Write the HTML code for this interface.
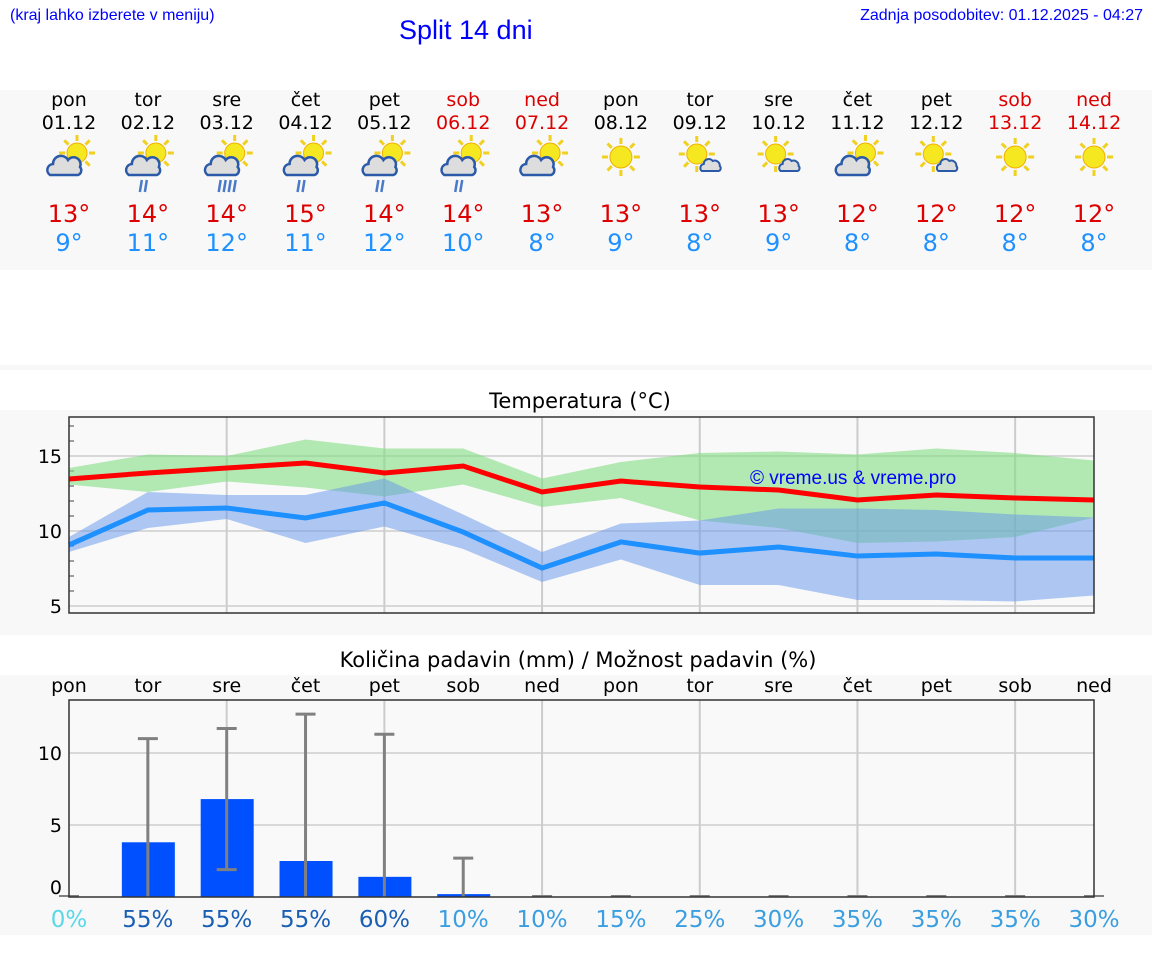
<!DOCTYPE html>
<html><head><meta charset="utf-8"><style>
body{margin:0;width:1152px;height:975px;background:#fff;font-family:"DejaVu Sans","Liberation Sans",sans-serif;position:relative;overflow:hidden}
.a{position:absolute}
.band{position:absolute;left:0;width:1152px;background:#f8f8f8}
.day{position:absolute;width:80px;text-align:center;font-size:19px}
</style></head><body>
<div class="a" style="left:10px;top:7px;font-size:16px;color:#00f;font-family:'Liberation Sans',sans-serif">(kraj lahko izberete v meniju)</div>
<div class="a" style="left:399px;top:15px;font-size:27px;color:#00f;font-family:'Liberation Sans',sans-serif">Split 14 dni</div>
<div class="a" style="right:9px;top:7px;font-size:16px;color:#00f;font-family:'Liberation Sans',sans-serif">Zadnja posodobitev: 01.12.2025 - 04:27</div>
<div class="band" style="top:90px;height:180px"></div>
<div class="band" style="top:365px;height:5px"></div>
<div class="band" style="top:410px;height:225px"></div>
<div class="band" style="top:675px;height:260px"></div>
<div id="days"></div>
<svg id="chart" class="a" style="left:0;top:0" width="1152" height="975"></svg>
<script>
const dayNames=["pon","tor","sre","čet","pet","sob","ned","pon","tor","sre","čet","pet","sob","ned"];
const dates=["01.12","02.12","03.12","04.12","05.12","06.12","07.12","08.12","09.12","10.12","11.12","12.12","13.12","14.12"];
const hiT=[13,14,14,15,14,14,13,13,13,13,12,12,12,12];
const loT=[9,11,12,11,12,10,8,9,8,9,8,8,8,8];
const icons=["pc","pcr","pcrr","pcr","pcr","pcr","pc","s","sc","sc","pc","sc","s","s"];
const maxLine=[13.47,13.87,14.2,14.53,13.87,14.33,12.6,13.33,12.93,12.73,12.07,12.4,12.2,12.07];
const maxHi=[14.2,15.1,15.0,16.1,15.5,15.5,13.5,14.6,15.2,15.3,15.1,15.5,15.2,14.7];
const maxLo=[13.1,12.6,13.3,12.9,12.3,13.1,11.6,12.2,10.7,10.2,9.2,9.3,9.6,10.9];
const minLine=[9.07,11.4,11.53,10.87,11.87,9.93,7.53,9.27,8.53,8.93,8.33,8.47,8.2,8.2];
const minHi=[9.6,12.6,12.4,12.4,13.5,11.1,8.6,10.5,10.7,11.5,11.5,11.4,11.1,10.9];
const minLo=[8.6,10.2,10.8,9.2,10.3,8.8,6.6,8.1,6.4,6.4,5.4,5.4,5.3,5.7];
const rain=[0,3.8,6.8,2.5,1.4,0.2,0,0,0,0,0,0,0,0];
const errLo=[0,0,1.9,0,0,0,0,0,0,0,0,0,0,0];
const errHi=[0,11,11.7,12.7,11.3,2.7,0,0,0,0,0,0,0,0];
const chance=[0,55,55,55,60,10,10,15,25,30,35,35,35,30];
const tempTicks=[5,10,15];
const rainTicks=[0,5,10];

const NS="http://www.w3.org/2000/svg";
const svg=document.getElementById('chart');
const X0=69,X1=1094,DX=(X1-X0)/13;
const xd=i=>X0+i*DX;
const yT=v=>531-(v-10)*15;
const yR=v=>897-v*14.4;
function el(t,a,p){const e=document.createElementNS(NS,t);for(const k in a)e.setAttribute(k,a[k]);(p||svg).appendChild(e);return e;}
const wk=i=>dayNames[i]==="sob"||dayNames[i]==="ned";

const dd=document.getElementById('days');
dayNames.forEach((n,i)=>{
 const d=document.createElement('div');d.className='day';
 
 
 d.style.left=(xd(i)-40)+'px';d.style.top='88px';
 const c=wk(i)?'#d00':'#000';
 d.innerHTML=`<div style="color:${c};line-height:24px">${n}</div><div style="color:${c};line-height:22px">${dates[i]}</div><div style="height:66px"></div><div style="color:#d00;font-size:24px;line-height:29px">${hiT[i]}°</div><div style="color:#1e90ff;font-size:24px;line-height:29px">${loT[i]}°</div>`;
 dd.appendChild(d);
});
function sun(g,cx,cy,r){for(let k=0;k<8;k++){const a=k*Math.PI/4;el('line',{x1:cx+Math.cos(a)*(r+2),y1:cy+Math.sin(a)*(r+2),x2:cx+Math.cos(a)*(r+8),y2:cy+Math.sin(a)*(r+8),stroke:'#f0d020','stroke-width':3},g);}el('circle',{cx,cy,r,fill:'#f5e820',stroke:'#f0b000','stroke-width':1},g);}
function cloud(g,cx,cy,s){el('path',{d:`M${cx-17},${cy+8} a6 6 0 0 1 3,-11 a8 8 0 0 1 15,-4 a7 7 0 0 1 12,7 a5 5 0 0 1 -2,8 z`,fill:'#ddd',stroke:'#2a5aa8','stroke-width':2.5},g);}
icons.forEach((t,i)=>{
 const g=el('g',{});
 const cx=xd(i);
 if(t==='s'){sun(g,cx,157,11);return;}
 if(t==='sc'){sun(g,cx-3,154,10);el('path',{d:`M${cx+2},${171} a4 4 0 0 1 2,-7 a5 5 0 0 1 9,-3 a5 5 0 0 1 7,5 a3 3 0 0 1 -1,5 z`,fill:'#ddd',stroke:'#2a5aa8','stroke-width':2},g);return;}
 sun(g,cx+8,153,10);cloud(g,cx-2,167,1);
 if(t==='pcr'||t==='pcrr'){const n=t==='pcr'?2:4;for(let k=0;k<n;k++)el('line',{x1:cx-6+k*5,y1:180,x2:cx-8+k*5,y2:192,stroke:'#4a7ac8','stroke-width':2.5},g);}
});

el('text',{x:580,y:408,'text-anchor':'middle','font-size':21,fill:'#000'}).textContent="Temperatura (°C)";
el('rect',{x:X0,y:417,width:X1-X0,height:196,fill:'#f9f9f9'});
tempTicks.forEach(v=>{el('line',{x1:X0,x2:X1,y1:yT(v),y2:yT(v),stroke:'#d8d8d8','stroke-width':2});
 const t=el('text',{x:62,y:yT(v)+7,'text-anchor':'end','font-size':19});t.textContent=v;});
for(let v=6;v<=17;v++)if(v%5)el('line',{x1:X0,x2:X0+5,y1:yT(v),y2:yT(v),stroke:'#444'});
for(let i=2;i<13;i+=2)el('line',{x1:xd(i),x2:xd(i),y1:417,y2:613,stroke:'#ccc','stroke-width':2});
function band(hi,lo,fill,name){const pts=hi.map((v,i)=>xd(i)+','+yT(v)).concat(lo.map((v,i)=>xd(i)+','+yT(v)).reverse());const p=el('polygon',{points:pts.join(' '),fill});}
band(maxHi,maxLo,'rgba(130,220,130,0.6)','max-temp-range');
band(minHi,minLo,'rgba(100,150,235,0.5)','min-temp-range');
function line(vals,col,name){const p=el('polyline',{points:vals.map((v,i)=>xd(i)+','+yT(v)).join(' '),fill:'none',stroke:col,'stroke-width':5});}
line(maxLine,'#f00','max-temp-line');line(minLine,'#1e90ff','min-temp-line');
el('rect',{x:X0,y:417,width:X1-X0,height:196,fill:'none',stroke:'#333','stroke-width':1.5});
const wm=el('text',{x:750,y:484,'font-size':19,fill:'#00f','font-family':'Liberation Sans,sans-serif'});wm.textContent="© vreme.us & vreme.pro";

el('text',{x:578,y:667,'text-anchor':'middle','font-size':21}).textContent="Količina padavin (mm) / Možnost padavin (%)";
dayNames.forEach((n,i)=>{el('text',{x:xd(i),y:692,'text-anchor':'middle','font-size':19}).textContent=n;});
el('rect',{x:X0,y:700,width:X1-X0,height:197,fill:'#f9f9f9'});
rainTicks.forEach(v=>{if(v)el('line',{x1:X0,x2:X1,y1:yR(v),y2:yR(v),stroke:'#d8d8d8','stroke-width':2});
 el('text',{x:62,y:yR(v)+(v?7:-3),'text-anchor':'end','font-size':19}).textContent=v;});
for(let i=2;i<13;i+=2)el('line',{x1:xd(i),x2:xd(i),y1:700,y2:897,stroke:'#ccc','stroke-width':2});
rain.forEach((v,i)=>{
 if(v>0){const r=el('rect',{x:xd(i)-26,y:yR(v),width:53,height:897-yR(v),fill:'#0050ff'});}
 if(errHi[i]>0){el('line',{x1:xd(i),x2:xd(i),y1:yR(errHi[i]),y2:yR(errLo[i]),stroke:'#808080','stroke-width':3});
  el('line',{x1:xd(i)-10,x2:xd(i)+10,y1:yR(errHi[i]),y2:yR(errHi[i]),stroke:'#808080','stroke-width':3});
  if(errLo[i]>0)el('line',{x1:xd(i)-10,x2:xd(i)+10,y1:yR(errLo[i]),y2:yR(errLo[i]),stroke:'#808080','stroke-width':3});}
 else el('line',{x1:xd(i)-10,x2:xd(i)+10,y1:896,y2:896,stroke:'#808080','stroke-width':2});
 const c=chance[i]===0?'#5ad8e8':chance[i]>=50?'#1a5fb4':'#3a9ee0';
 const t=el('text',{x:xd(i),y:927,'text-anchor':'middle','font-size':23,fill:c});t.textContent=chance[i]+'%';
 
});
el('rect',{x:X0,y:700,width:X1-X0,height:197,fill:'none',stroke:'#333','stroke-width':1.5});
</script>
</body></html>
